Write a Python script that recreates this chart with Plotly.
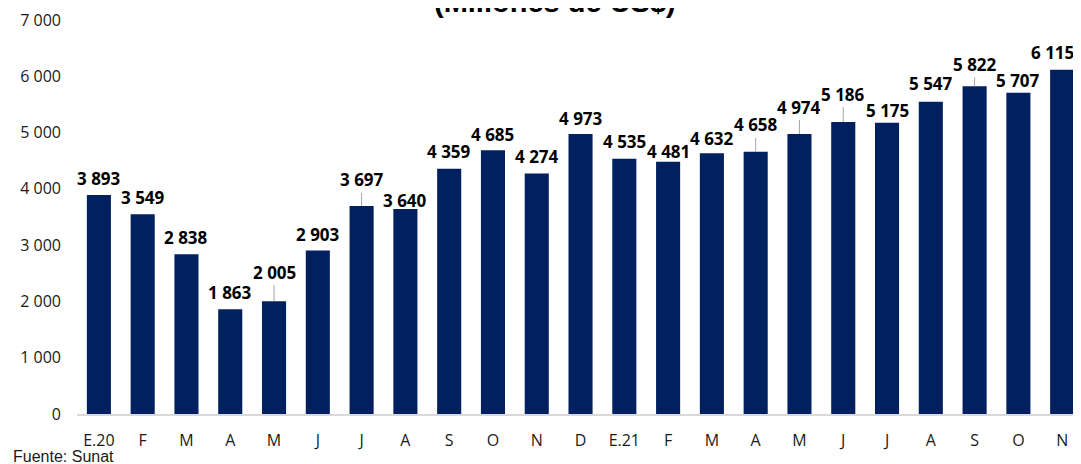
import plotly.graph_objects as go

months = ["E.20", "F", "M", "A", "M", "J", "J", "A", "S", "O", "N", "D",
          "E.21", "F", "M", "A", "M", "J", "J", "A", "S", "O", "N"]
values = [3893, 3549, 2838, 1863, 2005, 2903, 3697, 3640, 4359, 4685, 4274, 4973,
          4535, 4481, 4632, 4658, 4974, 5186, 5175, 5547, 5822, 5707, 6115]

# label placement (pixels above bar top) and leader-line flags
label_offsets = [16, 17, 17, 17, 29, 16, 26, 9, 17, 16, 17, 16,
                 17, 10, 15, 27, 27, 28, 12, 18, 22, 12, 17]
leader = [False, False, False, False, True, False, True, False, False, False, False, False,
          False, False, False, True, True, True, False, False, True, False, False]
label_xshift = [0] * 22 + [-10]

x_idx = list(range(len(months)))

# the page body adds an 8px offset; figure is sized to fill the 1081x464 window
FIG_W, FIG_H = 1073, 456
M_L, M_R, M_T, M_B = 69, 0, 12, 50
PLOT_W = FIG_W - M_L - M_R

fig = go.Figure()
fig.add_trace(go.Bar(
    x=x_idx, y=values,
    marker=dict(color="#002060", line=dict(width=0)),
    width=0.55,
    hoverinfo="skip",
))

def fmt(v):
    return f"{v:,}".replace(",", " ")

annotations = []
for i, v in enumerate(values):
    annotations.append(dict(
        x=i, y=v, xref="x", yref="y",
        text="<b>" + fmt(v) + "</b>",
        showarrow=True, ax=label_xshift[i], ay=-label_offsets[i],
        arrowhead=0, arrowwidth=1, standoff=0,
        arrowcolor="#a6a6a6" if leader[i] else "rgba(0,0,0,0)",
        font=dict(family="Open Sans", size=17, color="#000000"),
    ))

annotations.append(dict(
    x=(547 - M_L) / PLOT_W, xref="paper", y=1, yref="paper",
    text="<b>(Millones de US$)</b>", showarrow=False,
    xanchor="center", yanchor="bottom", yshift=0,
    font=dict(family="Liberation Sans", size=29, color="#000000"),
))

annotations.append(dict(
    x=(3 - M_L) / PLOT_W, xref="paper", y=0, yref="paper",
    text="Fuente: Sunat", showarrow=False,
    xanchor="left", yanchor="top", yshift=-32,
    font=dict(family="Liberation Sans", size=16, color="#1a1a1a"),
))

fig.update_layout(
    width=FIG_W, height=FIG_H,
    margin=dict(l=M_L, r=M_R, t=M_T, b=M_B),
    paper_bgcolor="white", plot_bgcolor="white",
    separators=", ",
    showlegend=False,
    annotations=annotations,
    xaxis=dict(
        tickmode="array", tickvals=x_idx, ticktext=months,
        range=[-0.5, 22.43],
        showline=True, linecolor="#d9d9d9", linewidth=2,
        showgrid=False, zeroline=False, ticks="",
        ticklabelstandoff=11,
        tickfont=dict(family="Open Sans", size=16, color="#1a1a1a"),
    ),
    yaxis=dict(
        range=[0, 7000], dtick=1000, tickformat=",d",
        showgrid=False, zeroline=False, showline=False, ticks="",
        ticklabelstandoff=15,
        tickfont=dict(family="Open Sans", size=16, color="#1a1a1a"),
    ),
)

fig.write_html("out.html")
